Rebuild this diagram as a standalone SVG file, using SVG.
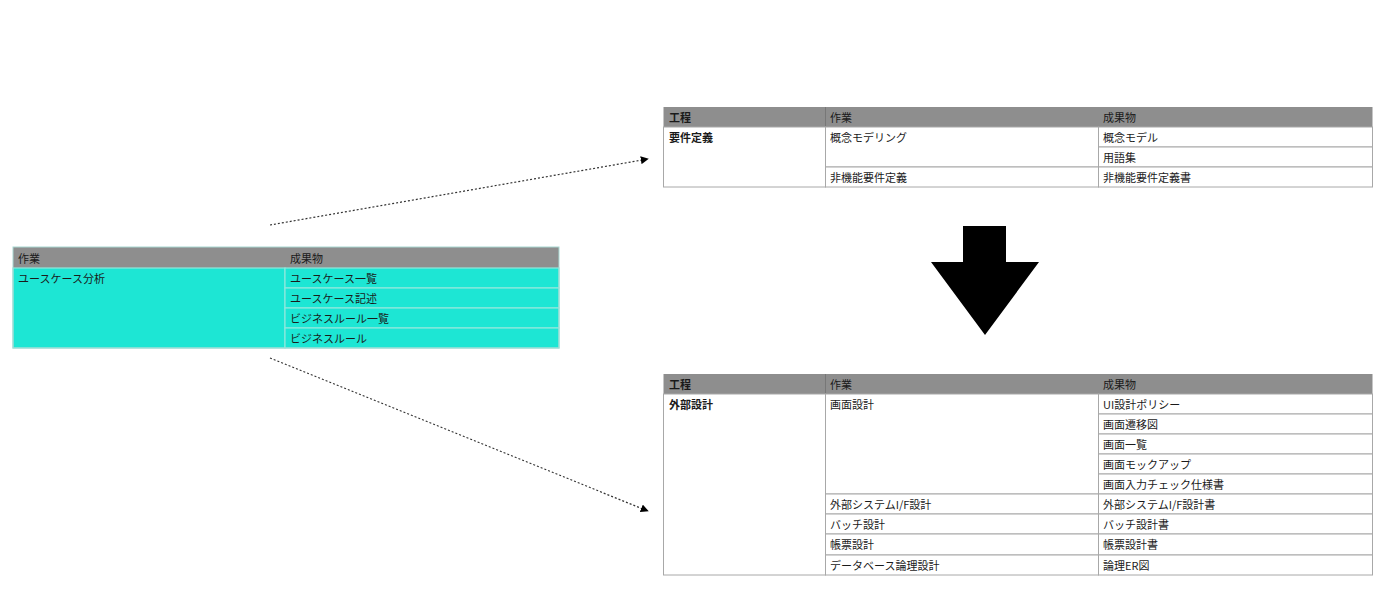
<svg xmlns="http://www.w3.org/2000/svg" width="1400" height="603" viewBox="0 0 1400 603">
<style>
text{font-family:"Noto Sans CJK JP","Liberation Sans",sans-serif;font-size:11px;fill:#1a1a1a}
.b{font-weight:bold}
.hd{fill:#8e8e8e}
.cell{fill:#fff;stroke:#a8a8a8;stroke-width:1}
.cy{fill:#1de6d4;stroke:#8fe8dd;stroke-width:1.2}
.conn{stroke:#333;stroke-width:1.2;stroke-dasharray:2,2;fill:none}
</style>
<defs>
<marker id="ah" viewBox="0 0 10 10" refX="9" refY="5" markerWidth="8" markerHeight="8" markerUnits="userSpaceOnUse" orient="auto"><path d="M0,0 L10,5 L0,10 z" fill="#000"/></marker>
</defs>
<rect width="1400" height="603" fill="#fff"/>

<g id="usecase-table">
<rect x="13" y="247" width="546" height="21" class="hd"/>
<rect x="13" y="268" width="272" height="80" class="cy"/>
<rect x="285" y="268" width="274" height="20" class="cy"/>
<rect x="285" y="288" width="274" height="20" class="cy"/>
<rect x="285" y="308" width="274" height="20" class="cy"/>
<rect x="285" y="328" width="274" height="20" class="cy"/>
<rect x="13" y="247" width="546" height="101" fill="none" stroke="#a8d8d2" stroke-width="1"/>
<text x="18" y="263">作業</text>
<text x="290" y="263">成果物</text>
<text x="18" y="283">ユースケース分析</text>
<text x="290" y="283">ユースケース一覧</text>
<text x="290" y="303">ユースケース記述</text>
<text x="290" y="323">ビジネスルール一覧</text>
<text x="290" y="343">ビジネスルール</text>
</g>

<g id="requirements-table">
<rect x="663.5" y="107" width="709" height="20" class="hd"/>
<line x1="825.5" y1="107" x2="825.5" y2="127" stroke="#777"/>
<rect x="663.5" y="127" width="162" height="60" class="cell"/>
<rect x="825.5" y="127" width="273" height="40" class="cell"/>
<rect x="825.5" y="167" width="273" height="20" class="cell"/>
<rect x="1098.5" y="127" width="274" height="20" class="cell"/>
<rect x="1098.5" y="147" width="274" height="20" class="cell"/>
<rect x="1098.5" y="167" width="274" height="20" class="cell"/>
<text x="669" y="122" class="b">工程</text>
<text x="830" y="122">作業</text>
<text x="1103" y="122">成果物</text>
<text x="669" y="142" class="b">要件定義</text>
<text x="830" y="142">概念モデリング</text>
<text x="830" y="182">非機能要件定義</text>
<text x="1103" y="142">概念モデル</text>
<text x="1103" y="162">用語集</text>
<text x="1103" y="182">非機能要件定義書</text>
</g>

<g id="down-arrow">
<path d="M963,226 H1006 V262 H1039 L985,335 L931,262 H963 Z" fill="#000"/>
</g>

<g id="external-design-table">
<rect x="663.5" y="374" width="709" height="20" class="hd"/>
<line x1="825.5" y1="374" x2="825.5" y2="394" stroke="#777"/>
<rect x="663.5" y="394" width="162" height="181" class="cell"/>
<rect x="825.5" y="394" width="273" height="100" class="cell"/>
<rect x="825.5" y="494" width="273" height="20" class="cell"/>
<rect x="825.5" y="514" width="273" height="20" class="cell"/>
<rect x="825.5" y="534" width="273" height="21" class="cell"/>
<rect x="825.5" y="555" width="273" height="20" class="cell"/>
<rect x="1098.5" y="394" width="274" height="20" class="cell"/>
<rect x="1098.5" y="414" width="274" height="20" class="cell"/>
<rect x="1098.5" y="434" width="274" height="20" class="cell"/>
<rect x="1098.5" y="454" width="274" height="20" class="cell"/>
<rect x="1098.5" y="474" width="274" height="20" class="cell"/>
<rect x="1098.5" y="494" width="274" height="20" class="cell"/>
<rect x="1098.5" y="514" width="274" height="20" class="cell"/>
<rect x="1098.5" y="534" width="274" height="21" class="cell"/>
<rect x="1098.5" y="555" width="274" height="20" class="cell"/>
<text x="669" y="389" class="b">工程</text>
<text x="830" y="389">作業</text>
<text x="1103" y="389">成果物</text>
<text x="669" y="409" class="b">外部設計</text>
<text x="830" y="409">画面設計</text>
<text x="830" y="509">外部システムI/F設計</text>
<text x="830" y="529">バッチ設計</text>
<text x="830" y="549">帳票設計</text>
<text x="830" y="570">データベース論理設計</text>
<text x="1103" y="409">UI設計ポリシー</text>
<text x="1103" y="429">画面遷移図</text>
<text x="1103" y="449">画面一覧</text>
<text x="1103" y="469">画面モックアップ</text>
<text x="1103" y="489">画面入力チェック仕様書</text>
<text x="1103" y="509">外部システムI/F設計書</text>
<text x="1103" y="529">バッチ設計書</text>
<text x="1103" y="549">帳票設計書</text>
<text x="1103" y="570">論理ER図</text>
</g>

<g id="connectors">
<line x1="270" y1="225" x2="648" y2="159" class="conn" marker-end="url(#ah)"/>
<line x1="270" y1="358" x2="648" y2="511" class="conn" marker-end="url(#ah)"/>
</g>
</svg>
